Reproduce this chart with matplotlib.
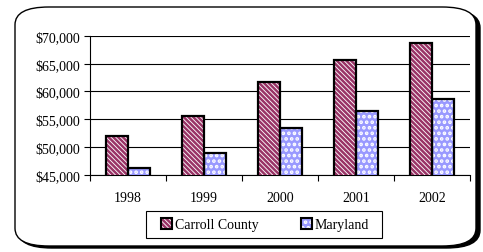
import numpy as np
import matplotlib
matplotlib.use("Agg")
import matplotlib.pyplot as plt
from matplotlib.patches import FancyBboxPatch, Patch, Rectangle
from matplotlib.legend_handler import HandlerTuple
from matplotlib.ticker import FuncFormatter, FixedLocator

years = ["1998", "1999", "2000", "2001", "2002"]
carroll = [52000, 55500, 61700, 65700, 68700]
maryland = [46200, 49000, 53500, 56500, 58600]
series_names = ["Carroll County", "Maryland"]

plt.rcParams["font.family"] = ["Liberation Serif", "DejaVu Serif"]
plt.rcParams["hatch.linewidth"] = 1.8

fig = plt.figure(figsize=(4.83, 2.53), dpi=100)

# rounded outer frame with shadow
shadow = FancyBboxPatch((18 / 483, 4 / 253), 462 / 483, 238 / 253,
                        boxstyle="round,pad=0,rounding_size=0.07",
                        transform=fig.transFigure, facecolor="black",
                        edgecolor="black", linewidth=1, zorder=-2)
frame = FancyBboxPatch((15 / 483, 6 / 253), 461 / 483, 239 / 253,
                       boxstyle="round,pad=0,rounding_size=0.07",
                       transform=fig.transFigure, facecolor="white",
                       edgecolor="black", linewidth=1, zorder=-1)
# legend box (wider than its content, like the original)
legbox = Rectangle((146 / 483, 1 - 239 / 253), 236 / 483, 27 / 253,
                   transform=fig.transFigure, facecolor="white",
                   edgecolor="black", linewidth=0.8, zorder=-0.5)
fig.patches.extend([shadow, frame, legbox])

ax = fig.add_axes([90 / 483, 1 - 175.7 / 253, 380 / 483, 138.7 / 253])
ax.set_facecolor("none")

x = np.arange(len(years))
w = 0.29
c_face = "#993366"
m_face = "#9999ff"
c_hatch = "\\" * 7
m_hatch = "..."

# Carroll County: maroon diagonal stripes
ax.bar(x - w / 2, carroll, w, color="white", edgecolor=c_face,
       hatch=c_hatch, linewidth=0, zorder=3)
ax.bar(x - w / 2, carroll, w, fill=False, edgecolor="black", linewidth=1.6, zorder=4)
# Maryland: blue with white dots
ax.bar(x + w / 2, maryland, w, color=m_face, edgecolor="white",
       hatch=m_hatch, linewidth=0, zorder=3)
ax.bar(x + w / 2, maryland, w, fill=False, edgecolor="black", linewidth=1.6, zorder=4)

ax.set_ylim(45000, 70000)
ax.set_xlim(-0.5, len(years) - 0.5)
ax.set_yticks(np.arange(45000, 70001, 5000))
ax.yaxis.set_major_formatter(FuncFormatter(lambda v, p: "${:,.0f}".format(v)))
ax.grid(axis="y", color="black", linewidth=0.8, zorder=1)

ax.xaxis.set_major_locator(FixedLocator(np.arange(-0.5, len(years), 1.0)))
ax.xaxis.set_minor_locator(FixedLocator(x))
ax.set_xticklabels([], minor=False)
ax.set_xticklabels(years, minor=True)
ax.tick_params(axis="x", which="major", direction="out", length=4, width=0.8)
ax.tick_params(axis="x", which="minor", length=0, pad=12, labelsize=10)
ax.tick_params(axis="y", direction="out", length=4, width=0.8, pad=3, labelsize=10)

for s in ["top", "right"]:
    ax.spines[s].set_visible(False)
ax.spines["left"].set_linewidth(0.8)
ax.spines["bottom"].set_linewidth(0.8)

outline = dict(fill=False, edgecolor="black", linewidth=1.5)
handles = [(Patch(facecolor="white", edgecolor=c_face, hatch=c_hatch, linewidth=0),
            Patch(**outline)),
           (Patch(facecolor=m_face, edgecolor="white", hatch=m_hatch, linewidth=0),
            Patch(**outline))]
leg = fig.legend(handles, series_names, ncol=2, loc="center",
                 bbox_to_anchor=(265 / 483, 1 - 225.5 / 253), fontsize=10,
                 frameon=False, handlelength=0.8, handleheight=0.8,
                 handletextpad=0.2, columnspacing=3.0, borderpad=0.4,
                 handler_map={tuple: HandlerTuple(ndivide=1)})

fig.savefig("out.png", dpi=100)
